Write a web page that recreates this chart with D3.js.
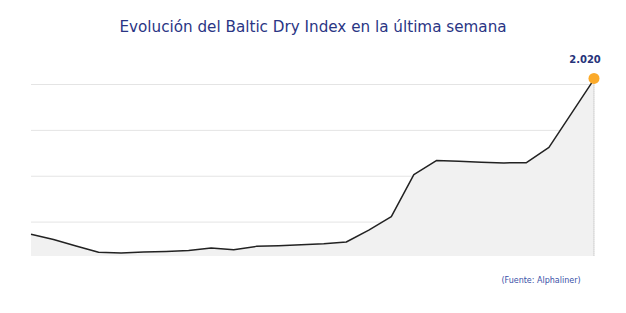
<!DOCTYPE html>
<html lang="es">
<head>
  <meta charset="UTF-8">
  <title>Baltic Dry Index</title>
  <script src="https://d3js.org/d3.v7.min.js"></script>
  <style>
    body { margin: 0; background: #fff; }
  </style>
</head>
<body>
  <script>
    // Baltic Dry Index, one value per day (last value labelled)
    var days = d3.range(26);
    var values = [1345, 1322, 1294, 1266, 1263, 1267, 1270, 1274, 1285, 1277,
                  1292, 1295, 1299, 1303, 1311, 1363, 1422, 1605, 1666, 1663,
                  1659, 1656, 1657, 1724, 1872, 2020];
    var gridTicks = [1400, 1600, 1800, 2000];
    var title = "Evolución del Baltic Dry Index en la última semana";
    var source = "(Fuente: Alphaliner)";

    var width = 626, height = 313;
    var plotLeft = 31, plotRight = 594, plotTop = 84, plotBottom = 256;

    var svg = d3.select("body").append("svg")
      .attr("width", width)
      .attr("height", height);

    var x = d3.scaleLinear().domain([0, days.length - 1]).range([plotLeft, plotRight]);
    var y = d3.scaleLinear().domain([1250, 2000]).range([plotBottom, plotTop]);

    // grid
    svg.append("g")
      .attr("transform", "translate(" + plotLeft + ",0)")
      .call(d3.axisRight(y).tickValues(gridTicks).tickSize(plotRight - plotLeft).tickFormat(""))
      .call(g => g.select(".domain").remove())
      .call(g => g.selectAll("line").attr("stroke", "#e4e4e4").attr("stroke-width", 1));

    var area = d3.area()
      .x((d, i) => x(i))
      .y0(plotBottom)
      .y1(d => y(d));

    var line = d3.line()
      .x((d, i) => x(i))
      .y(d => y(d));

    svg.append("path")
      .datum(values)
      .attr("d", area)
      .attr("fill", "#f1f1f1");

    var last = values.length - 1;

    svg.append("line")
      .attr("x1", x(last)).attr("x2", x(last))
      .attr("y1", y(values[last])).attr("y2", plotBottom)
      .attr("stroke", "#aaa")
      .attr("stroke-width", 1)
      .attr("stroke-dasharray", "1 1");

    svg.append("path")
      .datum(values)
      .attr("d", line)
      .attr("fill", "none")
      .attr("stroke", "#222")
      .attr("stroke-width", 1.5)
      .attr("stroke-linejoin", "round");

    svg.append("circle")
      .attr("cx", x(last))
      .attr("cy", y(values[last]) - 1)
      .attr("r", 5.5)
      .attr("fill", "#fbaa2a");

    svg.append("text")
      .attr("x", x(last) - 9)
      .attr("y", 63)
      .attr("text-anchor", "middle")
      .attr("font-family", "DejaVu Sans, sans-serif")
      .attr("font-weight", "bold")
      .attr("font-size", 10)
      .attr("fill", "#26337a")
      .text(d3.format(",")(values[last]).replace(",", "."));

    svg.append("text")
      .attr("x", 313)
      .attr("y", 32)
      .attr("text-anchor", "middle")
      .attr("font-family", "DejaVu Sans, sans-serif")
      .attr("font-size", 15.2)
      .attr("fill", "#2a3584")
      .text(title);

    svg.append("text")
      .attr("x", 541)
      .attr("y", 283)
      .attr("text-anchor", "middle")
      .attr("font-family", "DejaVu Sans, sans-serif")
      .attr("font-size", 8)
      .attr("fill", "#3a52a8")
      .text(source);
  </script>
</body>
</html>
